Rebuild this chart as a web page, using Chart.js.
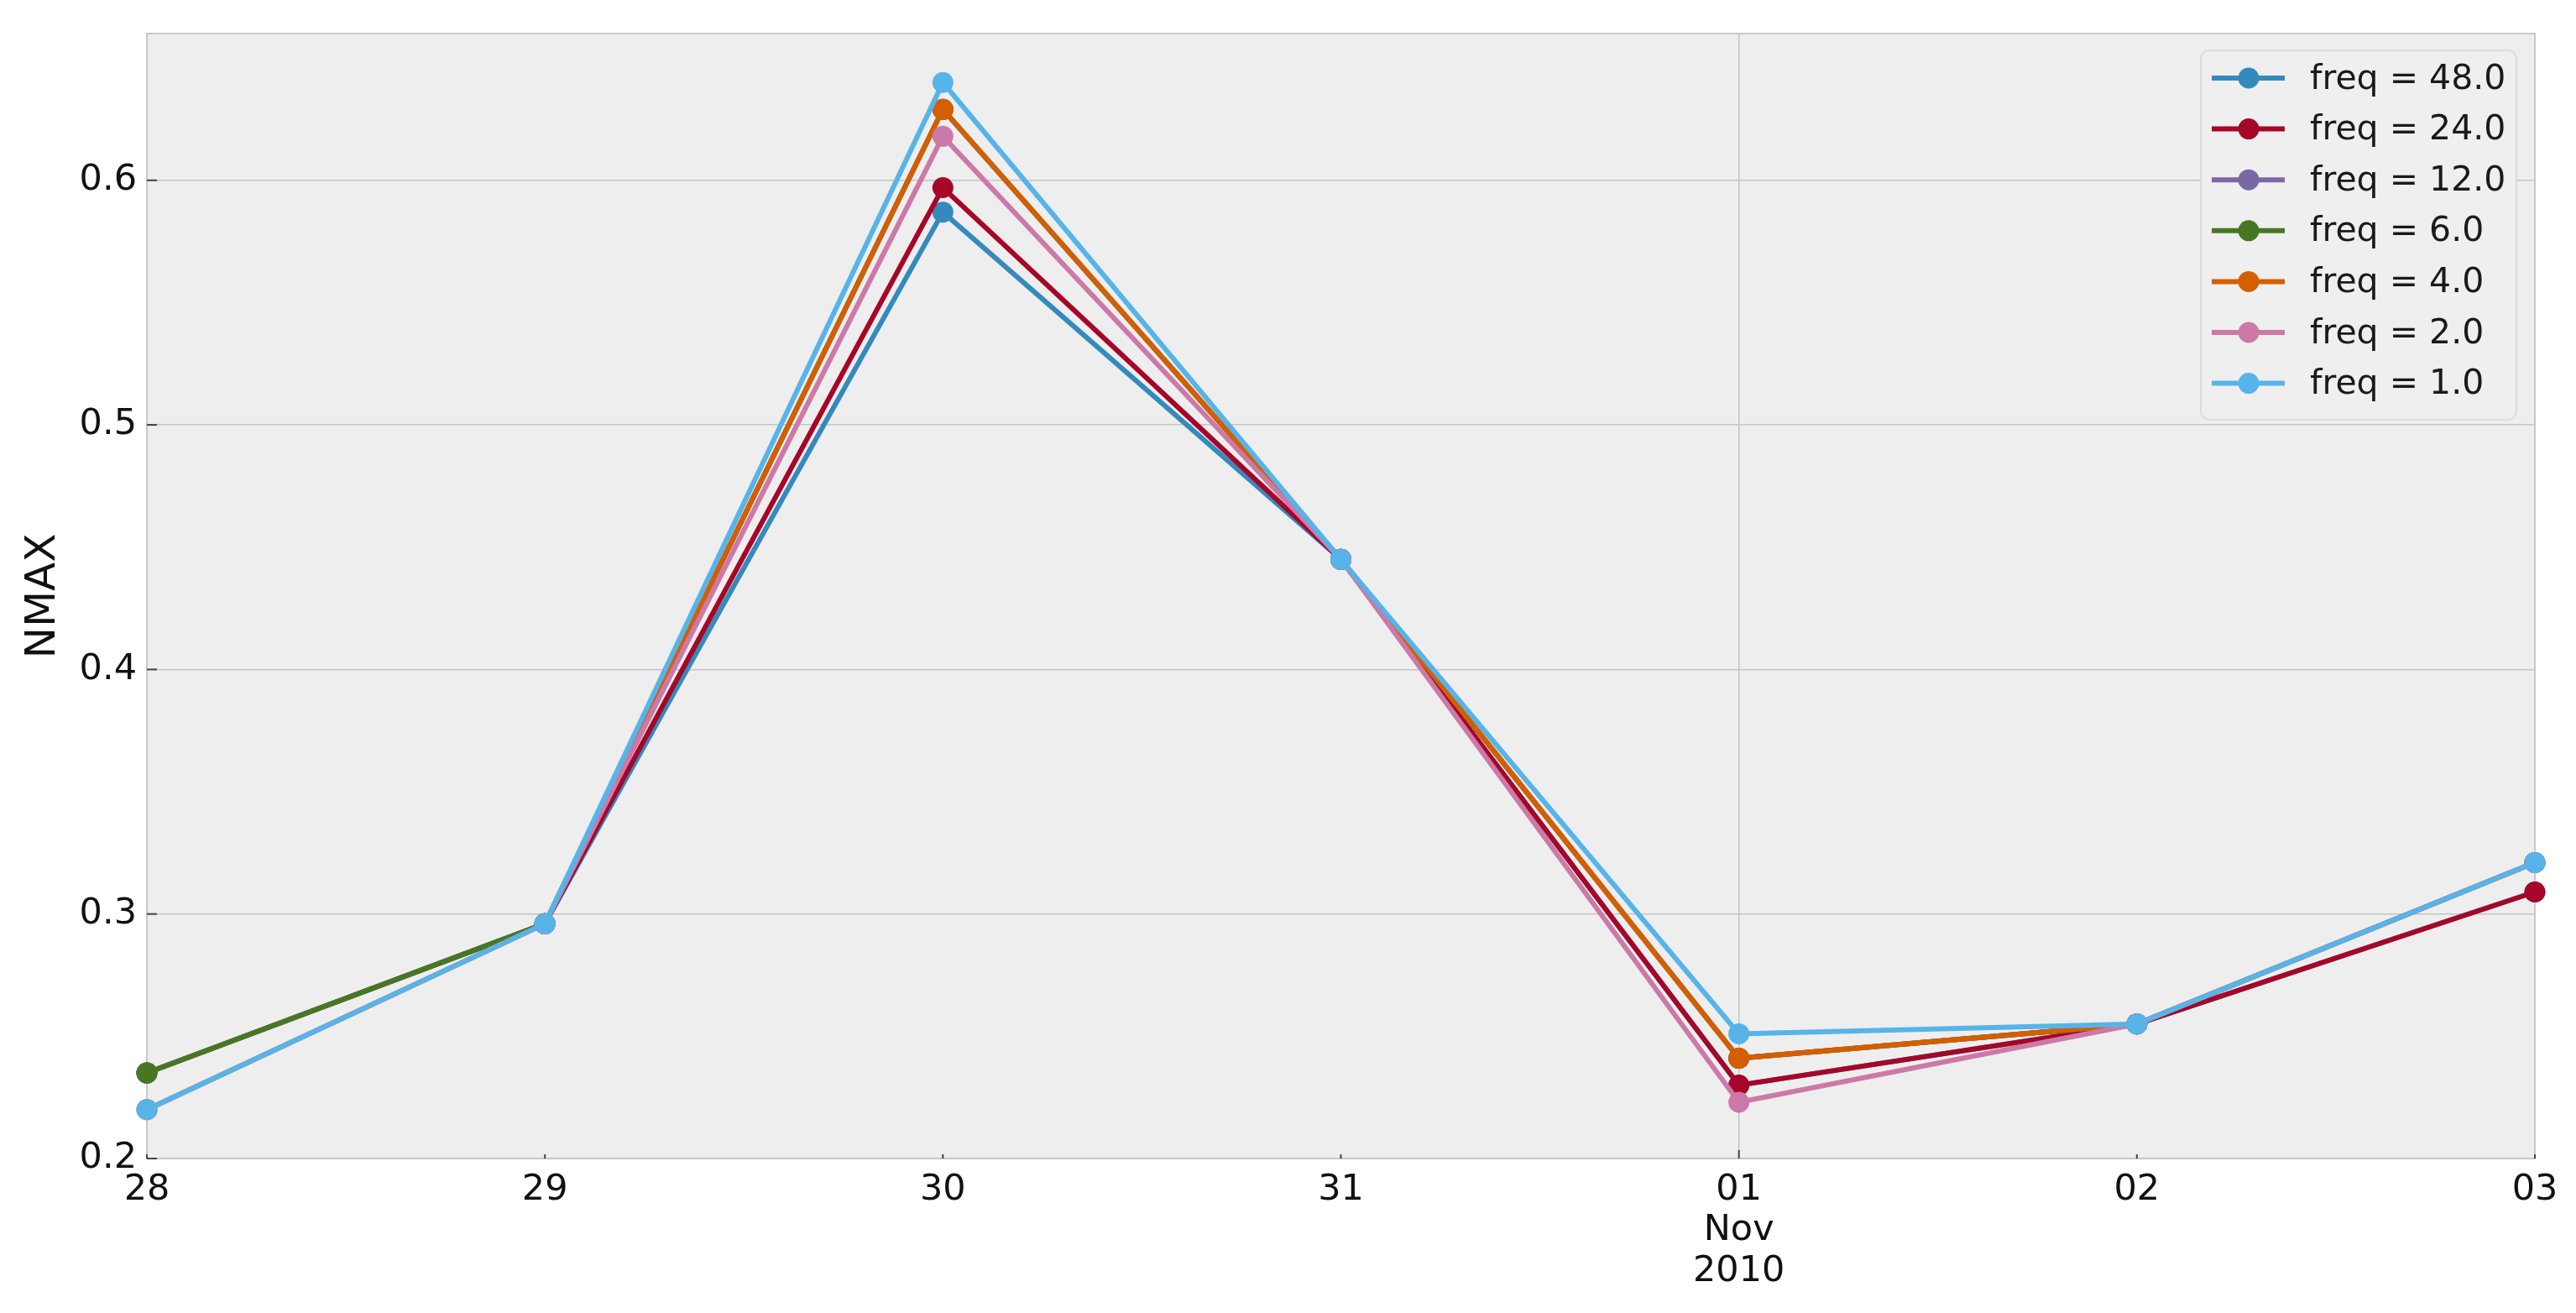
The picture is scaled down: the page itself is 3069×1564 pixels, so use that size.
<!DOCTYPE html>
<html>
<head>
<meta charset="utf-8">
<script src="https://cdn.jsdelivr.net/npm/chart.js@4/dist/chart.umd.min.js"></script>
<style>
  html, body { margin: 0; padding: 0; background: #ffffff; }
  #wrap { width: 3069px; height: 1564px; }
</style>
</head>
<body>
<div id="wrap"><canvas id="graph1"></canvas></div>
<script>
// days (Oct 28 -> Nov 03 2010)
var jours = ['28', '29', '30', '31', ['01', 'Nov', '2010'], '02', '03'];
var etiquettes = ['freq = 48.0', 'freq = 24.0', 'freq = 12.0', 'freq = 6.0', 'freq = 4.0', 'freq = 2.0', 'freq = 1.0'];
var couleurs = ['#348ABD', '#A60628', '#7A68A6', '#467821', '#D55E00', '#CC79A7', '#56B4E9'];

var freq48 = [0.235, 0.296, 0.587, 0.445, 0.230, 0.255, 0.309];
var freq24 = [0.235, 0.296, 0.597, 0.445, 0.230, 0.255, 0.309];
var freq12 = [0.235, 0.296, 0.629, 0.445, 0.241, 0.255, 0.321];
var freq6 = [0.235, 0.296, 0.629, 0.445, 0.241, 0.255, 0.321];
var freq4 = [0.220, 0.296, 0.629, 0.445, 0.241, 0.255, 0.321];
var freq2 = [0.220, 0.296, 0.618, 0.445, 0.223, 0.255, 0.321];
var freq1 = [0.220, 0.296, 0.640, 0.445, 0.251, 0.255, 0.321];

var series = [freq48, freq24, freq12, freq6, freq4, freq2, freq1];

var datasets = [];
for (let i = 0; i < series.length; i++) {
    datasets.push({
        label: etiquettes[i],
        data: series[i],
        borderColor: couleurs[i],
        backgroundColor: couleurs[i],
        borderWidth: 6,
        pointRadius: 12.5,
        pointBorderWidth: 0,
        pointHoverRadius: 12.5,
        tension: 0,
        clip: 14,
        // last series on top, like matplotlib
        order: series.length - i
    })
}

// grey plot background + frame + small inward ticks
var fond = {
    id: 'fond',
    beforeDraw: function (chart) {
        var a = chart.chartArea, c = chart.ctx;
        c.save();
        c.fillStyle = '#eeeeee';
        c.fillRect(a.left, a.top, a.right - a.left, a.bottom - a.top);
        c.restore();
    },
    beforeDatasetsDraw: function (chart) {
        var a = chart.chartArea, c = chart.ctx;
        c.save();
        c.strokeStyle = '#c8c8c8';
        c.lineWidth = 2;
        c.strokeRect(a.left, a.top, a.right - a.left, a.bottom - a.top);
        c.strokeStyle = '#444444';
        c.lineWidth = 2;
        var sx = chart.scales.x, sy = chart.scales.y;
        for (let i = 0; i < sx.ticks.length; i++) {
            var px = sx.getPixelForTick(i);
            c.beginPath();
            c.moveTo(px, a.bottom);
            c.lineTo(px, a.bottom - (i === 4 ? 10 : 5));
            c.stroke();
        }
        for (let j = 0; j < sy.ticks.length; j++) {
            var py = sy.getPixelForTick(j);
            c.beginPath();
            c.moveTo(a.left, py);
            c.lineTo(a.left + 12, py);
            c.stroke();
        }
        c.restore();
    }
}

// legend drawn inside the plot, upper right
var legende = {
    id: 'legende',
    afterDraw: function (chart) {
        var c = chart.ctx;
        var x0 = 2622, y0 = 60, w = 376, h = 440, r = 10;
        c.save();
        c.beginPath();
        c.roundRect(x0, y0, w, h, r);
        c.fillStyle = '#efefef';
        c.fill();
        c.strokeStyle = '#dcdcdc';
        c.lineWidth = 2;
        c.stroke();
        c.font = '41px "DejaVu Sans"';
        c.textBaseline = 'middle';
        var ds = chart.data.datasets;
        for (let i = 0; i < ds.length; i++) {
            var yy = 93 + i * 60.6;
            c.strokeStyle = ds[i].borderColor;
            c.lineWidth = 6;
            c.beginPath();
            c.moveTo(2635, yy);
            c.lineTo(2722, yy);
            c.stroke();
            c.fillStyle = ds[i].borderColor;
            c.beginPath();
            c.arc(2679, yy, 12.5, 0, Math.PI * 2);
            c.fill();
            c.fillStyle = '#1a1a1a';
            c.fillText(ds[i].label, 2752, yy + 2);
        }
        c.restore();
    }
}

var ctx = document.getElementById('graph1').getContext('2d');
var data = {
    labels: jours,
    datasets: datasets
}
var options = {
    responsive: true,
    maintainAspectRatio: false,
    animation: false,
    layout: { padding: { top: 40, right: 49, left: 0, bottom: 0 } },
    plugins: {
        legend: { display: false },
        tooltip: { enabled: false }
    },
    scales: {
        x: {
            type: 'category',
            offset: false,
            border: { display: false },
            grid: {
                drawTicks: false,
                lineWidth: 1.5,
                color: function (c) { return c.index === 4 ? '#c4c4c4' : 'rgba(0,0,0,0)'; },
                borderDash: [6, 4]
            },
            ticks: {
                color: '#111111',
                padding: 14,
                maxRotation: 0,
                autoSkip: false,
                font: { family: 'DejaVu Sans', size: 43, lineHeight: 1.12 }
            },
            afterFit: function (s) { s.height = 184; }
        },
        y: {
            min: 0.2,
            max: 0.66,
            border: { display: false },
            grid: {
                drawTicks: false,
                lineWidth: 1.5,
                color: '#c4c4c4',
                borderDash: [6, 4]
            },
            ticks: {
                stepSize: 0.1,
                includeBounds: false,
                color: '#111111',
                padding: 12,
                font: { family: 'DejaVu Sans', size: 43 },
                callback: function (v) { return v.toFixed(1); }
            },
            title: {
                display: true,
                text: 'NMAX',
                color: '#111111',
                padding: { top: 22, bottom: 0 },
                font: { family: 'DejaVu Sans', size: 50, lineHeight: 1.2 }
            },
            afterFit: function (s) { s.width = 175; }
        }
    }
}

var config = {
    type: 'line',
    data: data,
    options: options,
    plugins: [fond, legende]
}
var graph1 = new Chart(ctx, config)
</script>
</body>
</html>
